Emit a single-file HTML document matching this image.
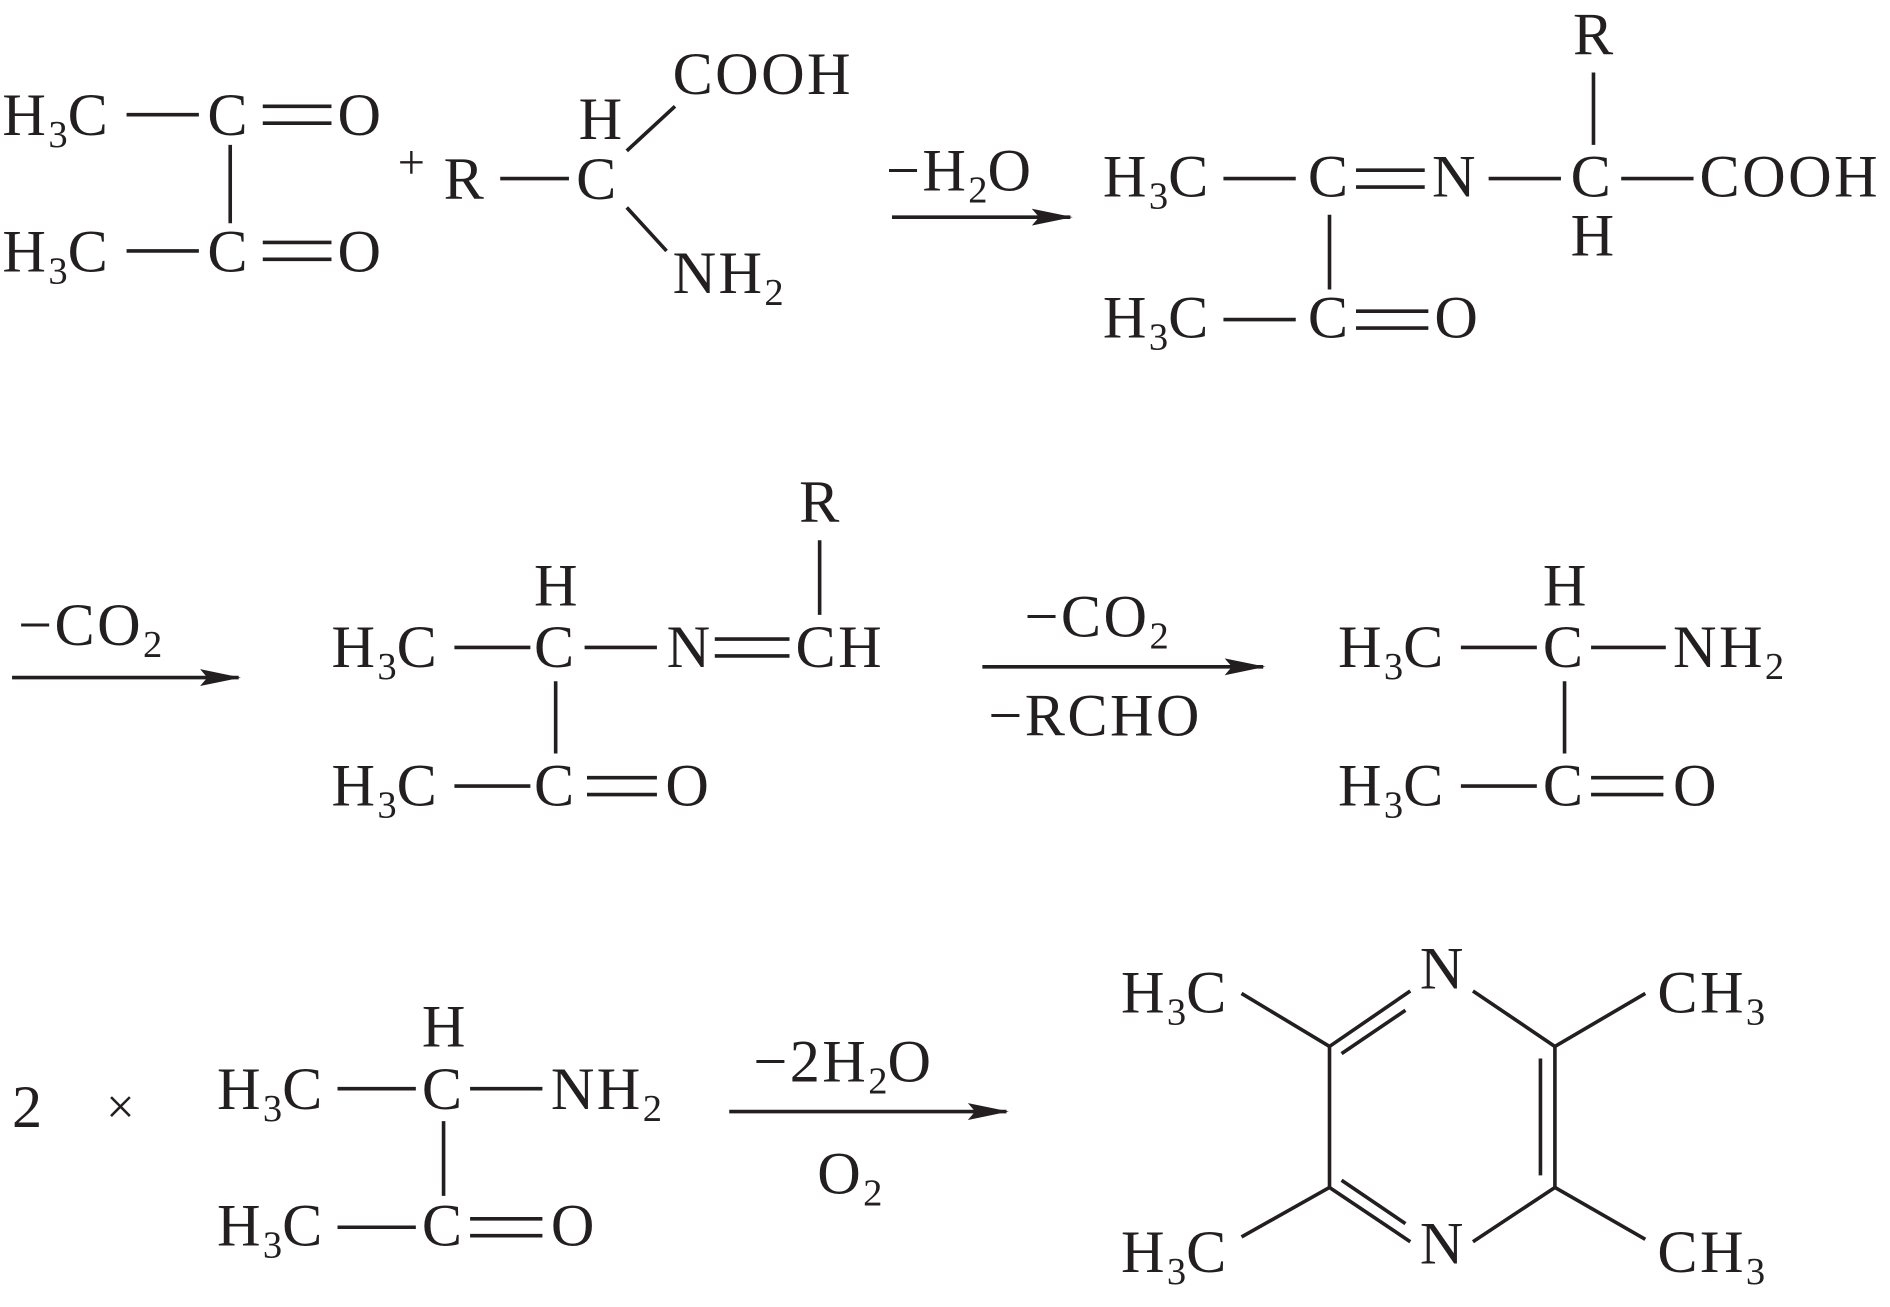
<!DOCTYPE html>
<html><head><meta charset="utf-8">
<style>
html,body{margin:0;padding:0;background:#fff;}
svg{display:block;}
text{font-family:"Liberation Serif",serif;font-size:50px;letter-spacing:2px;fill:#231f20;}
tspan.s{font-size:32px;letter-spacing:0;}
line,path{stroke:#231f20;stroke-width:3;fill:none;}
</style></head><body>
<svg width="1890" height="1307" viewBox="0 0 1568 1084" xmlns="http://www.w3.org/2000/svg">
<defs><marker id="a" markerWidth="34" markerHeight="16" refX="32" refY="8" orient="auto" markerUnits="userSpaceOnUse" viewBox="0 0 34 16"><path d="M0,1 L34,8 L0,15 L6,8Z" style="fill:#231f20;stroke:none"/></marker></defs>

<!-- Row 1: diacetyl -->
<text x="2" y="112">H<tspan class="s" dy="10">3</tspan><tspan dy="-10">C</tspan></text>
<line x1="105" y1="95" x2="165" y2="95"/>
<text x="172" y="112">C</text>
<line x1="218" y1="88" x2="275" y2="88"/><line x1="218" y1="102" x2="275" y2="102"/>
<text x="280" y="112">O</text>
<line x1="191" y1="120" x2="191" y2="185"/>
<text x="2" y="225">H<tspan class="s" dy="10">3</tspan><tspan dy="-10">C</tspan></text>
<line x1="105" y1="208" x2="165" y2="208"/>
<text x="172" y="225">C</text>
<line x1="218" y1="201" x2="275" y2="201"/><line x1="218" y1="215" x2="275" y2="215"/>
<text x="280" y="225">O</text>

<!-- amino acid -->
<text x="330" y="148" style="font-size:40px">+</text>
<text x="368" y="165">R</text>
<line x1="415" y1="148" x2="472" y2="148"/>
<text x="478" y="165">C</text>
<text x="480" y="115">H</text>
<line x1="520" y1="125" x2="560" y2="88"/>
<text x="558" y="78">COOH</text>
<line x1="520" y1="172" x2="553" y2="208"/>
<text x="558" y="243">NH<tspan class="s" dy="10">2</tspan></text>

<!-- arrow 1 -->
<text x="735" y="158">−H<tspan class="s" dy="10">2</tspan><tspan dy="-10">O</tspan></text>
<line x1="740" y1="180" x2="888" y2="180" marker-end="url(#a)"/>

<!-- product 1 -->
<text x="1305" y="45">R</text>
<line x1="1322" y1="60" x2="1322" y2="120"/>
<text x="915" y="163">H<tspan class="s" dy="10">3</tspan><tspan dy="-10">C</tspan></text>
<line x1="1015" y1="148" x2="1075" y2="148"/>
<text x="1085" y="163">C</text>
<line x1="1125" y1="141" x2="1182" y2="141"/><line x1="1125" y1="155" x2="1182" y2="155"/>
<text x="1188" y="163">N</text>
<line x1="1235" y1="148" x2="1295" y2="148"/>
<text x="1303" y="163">C</text>
<line x1="1345" y1="148" x2="1405" y2="148"/>
<text x="1410" y="163">COOH</text>
<text x="1303" y="212">H</text>
<line x1="1103" y1="178" x2="1103" y2="240"/>
<text x="915" y="280">H<tspan class="s" dy="10">3</tspan><tspan dy="-10">C</tspan></text>
<line x1="1015" y1="265" x2="1075" y2="265"/>
<text x="1085" y="280">C</text>
<line x1="1125" y1="258" x2="1185" y2="258"/><line x1="1125" y1="272" x2="1185" y2="272"/>
<text x="1190" y="280">O</text>

<!-- Row 2 -->
<text x="15" y="535">−CO<tspan class="s" dy="10">2</tspan></text>
<line x1="10" y1="562" x2="198" y2="562" marker-end="url(#a)"/>

<text x="663" y="433">R</text>
<line x1="680" y1="448" x2="680" y2="510"/>
<text x="443" y="502">H</text>
<text x="275" y="553">H<tspan class="s" dy="10">3</tspan><tspan dy="-10">C</tspan></text>
<line x1="377" y1="537" x2="440" y2="537"/>
<text x="443" y="553">C</text>
<line x1="485" y1="537" x2="545" y2="537"/>
<text x="553" y="553">N</text>
<line x1="593" y1="530" x2="655" y2="530"/><line x1="593" y1="544" x2="655" y2="544"/>
<text x="660" y="553">CH</text>
<line x1="461" y1="565" x2="461" y2="625"/>
<text x="275" y="668">H<tspan class="s" dy="10">3</tspan><tspan dy="-10">C</tspan></text>
<line x1="377" y1="652" x2="440" y2="652"/>
<text x="443" y="668">C</text>
<line x1="487" y1="645" x2="545" y2="645"/><line x1="487" y1="659" x2="545" y2="659"/>
<text x="552" y="668">O</text>

<text x="850" y="528">−CO<tspan class="s" dy="10">2</tspan></text>
<line x1="815" y1="553" x2="1048" y2="553" marker-end="url(#a)"/>
<text x="820" y="610">−RCHO</text>

<text x="1280" y="502">H</text>
<text x="1110" y="553">H<tspan class="s" dy="10">3</tspan><tspan dy="-10">C</tspan></text>
<line x1="1212" y1="537" x2="1275" y2="537"/>
<text x="1280" y="553">C</text>
<line x1="1320" y1="537" x2="1382" y2="537"/>
<text x="1388" y="553">NH<tspan class="s" dy="10">2</tspan></text>
<line x1="1298" y1="565" x2="1298" y2="625"/>
<text x="1110" y="668">H<tspan class="s" dy="10">3</tspan><tspan dy="-10">C</tspan></text>
<line x1="1212" y1="652" x2="1275" y2="652"/>
<text x="1280" y="668">C</text>
<line x1="1320" y1="645" x2="1380" y2="645"/><line x1="1320" y1="659" x2="1380" y2="659"/>
<text x="1388" y="668">O</text>

<!-- Row 3 -->
<text x="10" y="935">2</text>
<text x="88" y="932" style="font-size:42px">×</text>
<text x="350" y="868">H</text>
<text x="180" y="920">H<tspan class="s" dy="10">3</tspan><tspan dy="-10">C</tspan></text>
<line x1="280" y1="903" x2="345" y2="903"/>
<text x="350" y="920">C</text>
<line x1="390" y1="903" x2="450" y2="903"/>
<text x="457" y="920">NH<tspan class="s" dy="10">2</tspan></text>
<line x1="368" y1="930" x2="368" y2="992"/>
<text x="180" y="1033">H<tspan class="s" dy="10">3</tspan><tspan dy="-10">C</tspan></text>
<line x1="280" y1="1018" x2="345" y2="1018"/>
<text x="350" y="1033">C</text>
<line x1="390" y1="1011" x2="450" y2="1011"/><line x1="390" y1="1025" x2="450" y2="1025"/>
<text x="457" y="1033">O</text>

<text x="625" y="897">−2H<tspan class="s" dy="10">2</tspan><tspan dy="-10">O</tspan></text>
<line x1="605" y1="922" x2="835" y2="922" marker-end="url(#a)"/>
<text x="678" y="990">O<tspan class="s" dy="10">2</tspan></text>

<!-- pyrazine -->
<text x="1178" y="820">N</text>
<text x="1178" y="1048">N</text>
<line x1="1170" y1="822" x2="1103" y2="868"/>
<line x1="1166" y1="838" x2="1113" y2="874"/>
<line x1="1222" y1="822" x2="1290" y2="868"/>
<line x1="1103" y1="868" x2="1103" y2="985"/>
<line x1="1290" y1="868" x2="1290" y2="985"/>
<line x1="1278" y1="878" x2="1278" y2="975"/>
<line x1="1103" y1="985" x2="1170" y2="1030"/>
<line x1="1113" y1="979" x2="1166" y2="1015"/>
<line x1="1290" y1="985" x2="1222" y2="1030"/>
<line x1="1103" y1="868" x2="1030" y2="824"/>
<line x1="1290" y1="868" x2="1365" y2="824"/>
<line x1="1103" y1="985" x2="1030" y2="1026"/>
<line x1="1290" y1="985" x2="1365" y2="1028"/>
<text x="930" y="840">H<tspan class="s" dy="10">3</tspan><tspan dy="-10">C</tspan></text>
<text x="1375" y="840">CH<tspan class="s" dy="10">3</tspan></text>
<text x="930" y="1055">H<tspan class="s" dy="10">3</tspan><tspan dy="-10">C</tspan></text>
<text x="1375" y="1055">CH<tspan class="s" dy="10">3</tspan></text>
</svg>
</body></html>
